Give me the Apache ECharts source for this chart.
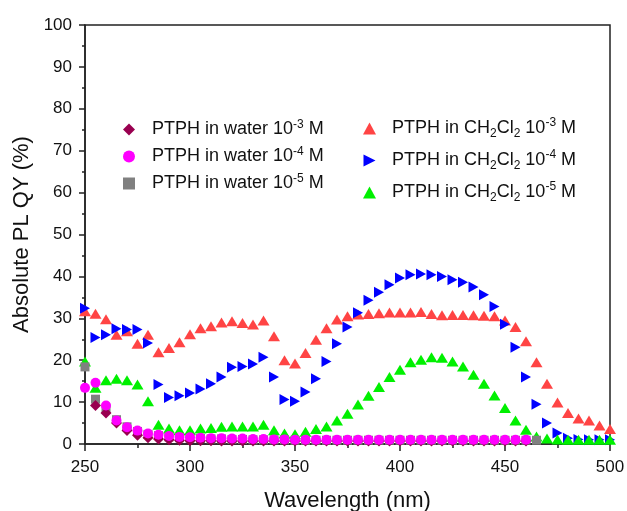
<!DOCTYPE html>
<html><head><meta charset="utf-8">
<script src="https://cdn.jsdelivr.net/npm/echarts@6/dist/echarts.min.js"></script>
<style>html,body{margin:0;padding:0;background:#fff}#c{width:627px;height:511px}</style>
</head><body><div id="c"></div>
<script>
const wavelengths = [250,255,260,265,270,275,280,285,290,295,300,305,310,315,320,325,330,335,340,345,350,355,360,365,370,375,380,385,390,395,400,405,410,415,420,425,430,435,440,445,450,455,460,465,470,475,480,485,490,495,500];
const dcm_1e3 = [31.7,31.1,29.8,26.1,26.9,23.9,26.1,21.9,22.9,24.3,26.2,27.6,28.1,29.0,29.3,28.9,28.5,29.5,25.7,20.0,19.2,21.7,24.9,27.6,29.7,30.5,30.9,31.0,31.2,31.4,31.4,31.4,31.5,31.0,30.7,30.8,30.8,30.7,30.6,30.5,29.5,27.9,24.5,19.5,14.4,9.9,7.4,6.1,5.6,4.4,3.6];
const dcm_1e4 = [32.4,25.4,26.1,27.5,27.3,27.3,24.1,14.2,11.1,11.5,12.2,13.1,14.4,16.0,18.3,18.5,19.1,20.7,16.0,10.6,10.2,12.4,15.6,19.7,23.9,27.9,31.3,34.3,36.2,38.0,39.6,40.4,40.6,40.4,40.0,39.2,38.6,37.5,35.6,32.8,28.6,23.1,16.0,9.5,5.0,2.6,1.4,1.1,1.0,1.0,1.0];
const dcm_1e5 = [19.7,13.4,15.2,15.6,15.2,14.2,10.2,4.6,3.7,3.3,3.3,3.7,3.8,4.1,4.2,4.2,4.2,4.6,3.3,2.5,2.3,2.9,3.6,4.2,5.6,7.2,9.4,11.5,13.6,16.0,17.7,19.5,20.1,20.7,20.6,19.7,18.5,16.5,14.4,11.6,8.6,5.6,3.4,1.8,1.3,1.1,1.0,1.0,1.0,1.0,1.0];
const water_1e3 = [null,9.2,7.4,5.0,3.2,2.1,1.5,1.2,1.0,0.9,0.8,0.8,0.8,0.7,0.7,0.7,0.7,0.7,0.7,0.7,0.7,0.7,0.7,0.7,0.7,0.7,0.7,0.7,0.7,0.7,0.7,0.7,0.7,0.7,0.7,0.7,0.7,0.7,0.7,0.7,0.7,0.7,0.7];
const water_1e4 = [13.4,14.6,9.2,5.6,4.0,3.2,2.5,2.2,1.9,1.7,1.6,1.5,1.4,1.4,1.3,1.3,1.2,1.2,1.1,1.1,1.0,1.0,1.0,1.0,1.0,1.0,1.0,1.0,1.0,1.0,1.0,1.0,1.0,1.0,1.0,1.0,1.0,1.0,1.0,1.0,1.0,1.0,1.0];
const water_1e5 = [18.4,10.7,8.4,5.8,4.1,3.0,2.3,2.0,1.7,1.5,1.4,1.3,1.2,1.2,1.1,1.1,1.0,1.0,1.0,1.0,0.9,0.9,0.9,0.9,0.9,0.9,0.9,0.9,0.9,0.9,0.9,0.9,0.9,0.9,0.9,0.9,0.9,0.9,0.9,0.9,0.9,0.9,0.9,0.9];
const xTicks = [250,300,350,400,450,500];
const yTicks = [0,10,20,30,40,50,60,70,80,90,100];

const names = {
  w3: 'PTPH in water 10-3 M', w4: 'PTPH in water 10-4 M', w5: 'PTPH in water 10-5 M',
  d3: 'PTPH in CH2Cl2 10-3 M', d4: 'PTPH in CH2Cl2 10-4 M', d5: 'PTPH in CH2Cl2 10-5 M'
};
const font = 'Liberation Sans, Arial, sans-serif';
const rich = {
  sup: {fontSize: 12, lineHeight: 12, verticalAlign: 'top', color: '#111', fontFamily: font},
  sub: {fontSize: 12, lineHeight: 12, verticalAlign: 'bottom', color: '#111', fontFamily: font}
};
function fmt(n) {
  const m = n.match(/^(.*) 10(-\d) M$/);
  let base = m[1].replace(/CH2Cl2/, 'CH{sub|2}Cl{sub|2}');
  return base + ' 10{sup|' + m[2] + '} M';
}
function pairs(arr) { return arr.map((v, i) => [wavelengths[i], v]).filter(p => p[1] !== null); }
const rightTri = 'path://M0,0 L10,5 L0,10 Z';

const chart = echarts.init(document.getElementById('c'), null, {renderer: 'canvas'});
chart.setOption({
  animation: false,
  backgroundColor: '#fff',
  grid: {left: 85, right: 17, top: 25, bottom: 67, containLabel: false, outerBoundsMode: 'none',
         show: true, borderColor: '#222', borderWidth: 1.5},
  xAxis: {
    type: 'value', min: 250, max: 500, interval: 50,
    name: 'Wavelength (nm)', nameLocation: 'middle', nameGap: 46,
    nameTextStyle: {fontSize: 22, color: '#111', fontFamily: font},
    axisLine: {show: true, lineStyle: {color: '#222', width: 1.5}},
    axisTick: {show: true, inside: false, length: 7, lineStyle: {color: '#222', width: 1.5}},
    minorTick: {show: true, splitNumber: 2, length: 4, lineStyle: {color: '#222', width: 1.5}},
    axisLabel: {fontSize: 17, color: '#111', fontFamily: font, margin: 15},
    splitLine: {show: false}
  },
  yAxis: {
    type: 'value', min: 0, max: 100, interval: 10,
    name: 'Absolute PL QY (%)', nameLocation: 'middle', nameGap: 48,
    nameTextStyle: {fontSize: 22, color: '#111', fontFamily: font},
    axisLine: {show: true, lineStyle: {color: '#222', width: 1.5}},
    axisTick: {show: true, inside: false, length: 6, lineStyle: {color: '#222', width: 1.5}},
    minorTick: {show: true, splitNumber: 2, length: 3, lineStyle: {color: '#222', width: 1.5}},
    axisLabel: {fontSize: 17, color: '#111', fontFamily: font, margin: 13},
    splitLine: {show: false}
  },
  legend: [
    {
      orient: 'vertical', left: 118, top: 114, itemWidth: 12, itemHeight: 12, itemGap: 6,
      data: [names.w3, names.w4, names.w5],
      formatter: fmt,
      textStyle: {fontSize: 18, lineHeight: 21, color: '#111', fontFamily: font, padding: [0, 0, 0, 12], rich: rich}
    },
    {
      orient: 'vertical', left: 358, top: 112, itemWidth: 13, itemHeight: 12, itemGap: 9,
      data: [names.d3, names.d4, names.d5],
      formatter: fmt,
      textStyle: {fontSize: 18, lineHeight: 23, color: '#111', fontFamily: font, padding: [0, 0, 0, 11], rich: rich}
    }
  ],
  series: [
    {name: names.d3, type: 'scatter', data: pairs(dcm_1e3), symbol: 'triangle', symbolSize: [12, 10], itemStyle: {color: '#FF4444', opacity: 1}},
    {name: names.d4, type: 'scatter', data: pairs(dcm_1e4), symbol: rightTri, symbolSize: [10, 11], itemStyle: {color: '#0000FF', opacity: 1}},
    {name: names.d5, type: 'scatter', data: pairs(dcm_1e5), symbol: 'triangle', symbolSize: [12, 10], itemStyle: {color: '#00F000', opacity: 1}},
    {name: names.w5, type: 'scatter', data: pairs(water_1e5), symbol: 'rect', symbolSize: 9, itemStyle: {color: '#808080', opacity: 1}},
    {name: names.w3, type: 'scatter', data: pairs(water_1e3), symbol: 'diamond', symbolSize: 11, itemStyle: {color: '#990050', opacity: 1}},
    {name: names.w4, type: 'scatter', data: pairs(water_1e4), symbol: 'circle', symbolSize: 10, itemStyle: {color: '#FF00FF', opacity: 1}}
  ]
});
</script></body></html>
